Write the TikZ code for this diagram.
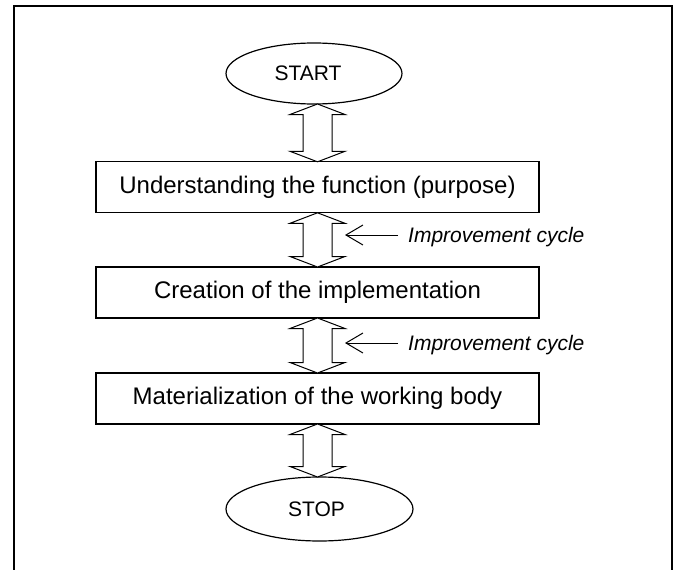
\documentclass[tikz,border=0pt]{standalone}
\usepackage{fontspec}
\setmainfont{Liberation Sans}
\usetikzlibrary{shapes.geometric,arrows.meta,calc}

\tikzset{
  x=1pt, y=-1pt,
  frame/.style={draw=black, line width=1.3pt},
  stepbox/.style={draw=black, line width=1.3pt, rectangle, minimum width=443pt,
    minimum height=51pt, inner sep=0pt, outer sep=0pt,
    font=\fontsize{24}{28}\selectfont},
  terminal/.style={draw=black, line width=1.2pt, ellipse, inner sep=0pt,
    outer sep=0pt, font=\fontsize{21}{25}\selectfont},
  cyclelabel/.style={anchor=west, inner xsep=10pt, inner ysep=0pt,
    text height=15pt, text depth=0pt,
    font=\fontsize{21}{25}\selectfont\itshape},
  cyclearrow/.style={draw=black, line width=1pt,
    -{Straight Barb[length=17pt,width=20pt,line width=1pt]}},
  % hollow double-headed block arrow between two nodes;
  % the argument names the end whose x-position the arrow follows
  dblarrow/.style={draw=black, line width=1pt, fill=white, to path={
    let \p1=(\tikztostart), \p2=(\tikztotarget), \p3=(#1) in
    (\x3,\y1) -- (\x3+27.5pt,\y1-10.5pt) -- (\x3+14.5pt,\y1-10.5pt)
    -- (\x3+14.5pt,\y2+10.5pt) -- (\x3+27.5pt,\y2+10.5pt) -- (\x3,\y2)
    -- (\x3-27.5pt,\y2+10.5pt) -- (\x3-14.5pt,\y2+10.5pt)
    -- (\x3-14.5pt,\y1-10.5pt) -- (\x3-27.5pt,\y1-10.5pt) -- cycle}},
  dblarrow/.default=\tikztotarget
}

\begin{document}
\begin{tikzpicture}
  \useasboundingbox (0,0) rectangle (673,570);

  % open frame around the chart
  \draw[frame] (14,570) -- (14,6) -- (672,6) -- (672,570);

  % terminals and process steps
  \node[terminal, minimum width=176pt, minimum height=61pt] (start) at (314,73.5) {START\kern12pt};
  \node[stepbox] (b1) at (317.5,187.3) {Understanding the function (purpose)};
  \node[stepbox] (b2) at (317.5,292.5) {Creation of the implementation};
  \node[stepbox] (b3) at (317.5,398.5) {Materialization of the working body};
  \node[terminal, minimum width=187pt, minimum height=64pt] (stop) at (319.5,509) {STOP\kern6pt};

  % double arrows between consecutive stages
  \draw[dblarrow] (start.south) to (b1.north);
  \draw[dblarrow] (b1.south) to (b2.north);
  \draw[dblarrow] (b2.south) to (b3.north);
  \draw[dblarrow=\tikztostart] (b3.south) to (stop.north);

  % improvement cycle annotations
  \node[cyclelabel] (c1) at (398,235) {Improvement cycle};
  \node[cyclelabel] (c2) at (398,343) {Improvement cycle};
  \coordinate (t1) at (345,235);
  \coordinate (t2) at (345,343);
  \draw[cyclearrow] (c1.west) -- (t1);
  \draw[cyclearrow] (c2.west) -- (t2);
\end{tikzpicture}
\end{document}
